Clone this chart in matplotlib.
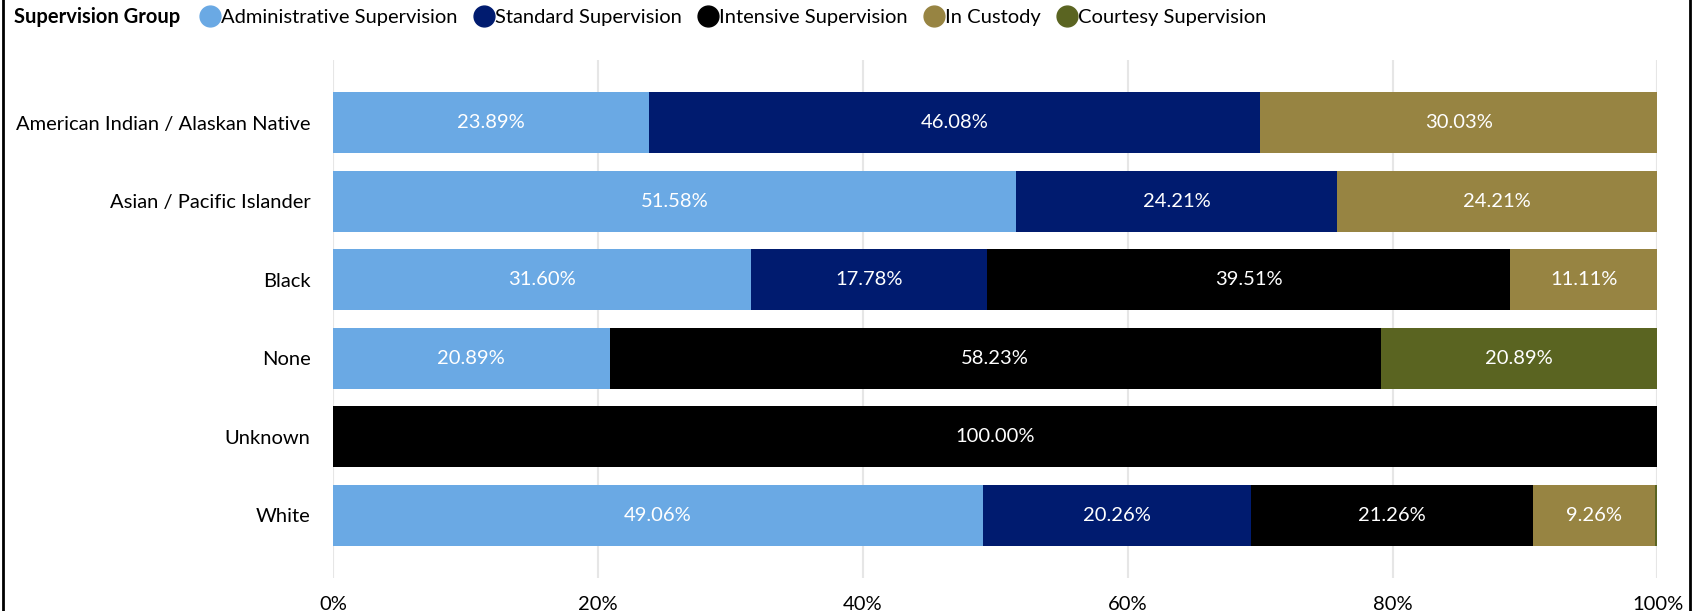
import numpy as np
import matplotlib.pyplot as plt
from matplotlib.lines import Line2D

plt.rcParams['font.family'] = ['Lato', 'DejaVu Sans']

# Data
groups = ['American Indian / Alaskan Native', 'Asian / Pacific Islander', 'Black',
          'None', 'Unknown', 'White']
series = ['Administrative Supervision', 'Standard Supervision', 'Intensive Supervision',
          'In Custody', 'Courtesy Supervision']
administrative = [23.89, 51.58, 31.60, 20.89, 0.0, 49.06]
standard = [46.08, 24.21, 17.78, 0.0, 0.0, 20.26]
intensive = [0.0, 0.0, 39.51, 58.23, 100.00, 21.26]
in_custody = [30.03, 24.21, 11.11, 0.0, 0.0, 9.26]
courtesy = [0.0, 0.0, 0.0, 20.89, 0.0, 0.16]
colors = ['#6AA9E4', '#001B6F', '#000000', '#978442', '#5A6421']

values = [administrative, standard, intensive, in_custody, courtesy]
fs = 14.5

fig = plt.figure(figsize=(17.07, 6.11), dpi=100)
ax = fig.add_axes([0.195, 0.054, 0.776, 0.848])

y = np.arange(len(groups))
left = np.zeros(len(groups))
for name, vals, c in zip(series, values, colors):
    vals = np.array(vals)
    bars = ax.barh(y, vals, left=left, height=0.78, color=c, label=name, zorder=2)
    for b, v in zip(bars, vals):
        if v >= 5:
            ax.text(b.get_x() + b.get_width() / 2, b.get_y() + b.get_height() / 2,
                    f'{v:.2f}%', ha='center', va='center', color='white', fontsize=fs)
    left += vals

ax.set_xlim(0, 100)
ax.set_ylim(len(groups) - 0.2, -0.8)
ax.set_yticks(y)
ax.set_yticklabels(groups, fontsize=fs)
ax.set_xticks(np.arange(0, 101, 20))
ax.set_xticklabels([f'{t}%' for t in range(0, 101, 20)], fontsize=fs)
ax.tick_params(length=0)
ax.tick_params(axis='y', pad=16)
ax.tick_params(axis='x', pad=13)
ax.grid(axis='x', color='#E6E6E6', linewidth=1.5, zorder=0)
for s in ax.spines.values():
    s.set_visible(False)

# Legend
fig.text(0.008, 0.972, 'Supervision Group', fontsize=fs, fontweight='bold', va='center')
handles = [Line2D([], [], marker='o', linestyle='', markersize=15, color=c) for c in colors]
fig.legend(handles, series, loc='center left', bbox_to_anchor=(0.117, 0.972), ncol=5,
           frameon=False, fontsize=fs, handletextpad=0.05, columnspacing=0.8,
           borderaxespad=0, borderpad=0, handlelength=1.0)

# Frame lines
fig.add_artist(Line2D([0.002, 0.002], [0, 1], color='black', linewidth=2))
fig.add_artist(Line2D([0.990, 0.990], [0, 1], color='black', linewidth=2))

fig.savefig('out.png', dpi=100)
